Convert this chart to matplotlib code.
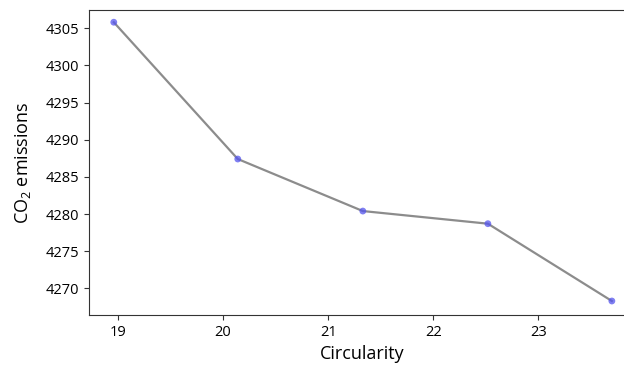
import matplotlib
matplotlib.use('Agg')
import matplotlib.pyplot as plt

plt.rcParams['font.family'] = ['Open Sans', 'DejaVu Sans']
plt.rcParams['mathtext.fontset'] = 'custom'
plt.rcParams['mathtext.rm'] = 'Open Sans'

# data
circularity = [18.96, 20.14, 21.33, 22.52, 23.70]
co2 = [4305.8, 4287.4, 4280.4, 4278.7, 4268.3]

fig, ax = plt.subplots(figsize=(6.24, 3.69), dpi=100)
# the right edge of the axes is cropped off in the reference
fig.subplots_adjust(left=0.1426, right=1.0176, top=0.974, bottom=0.146)

ax.plot(circularity, co2, color='gray', lw=1.6, alpha=0.9, zorder=1)
ax.scatter(circularity, co2, color='#5555ee', alpha=0.75, s=24, zorder=2, edgecolors='none')

ax.set_xlim(18.724, 23.92)
ax.set_ylim(4266.4, 4307.5)
ax.set_yticks(range(4270, 4306, 5))
ax.set_xticks([19, 20, 21, 22, 23])
ax.tick_params(labelsize=10.5, color='#333333')
for s in ax.spines.values():
    s.set_color('#333333')
ax.set_xlabel('Circularity', fontsize=13)
ax.set_ylabel(r'CO$_2$ emissions', fontsize=13, labelpad=9)

fig.savefig('out.png', dpi=100)
